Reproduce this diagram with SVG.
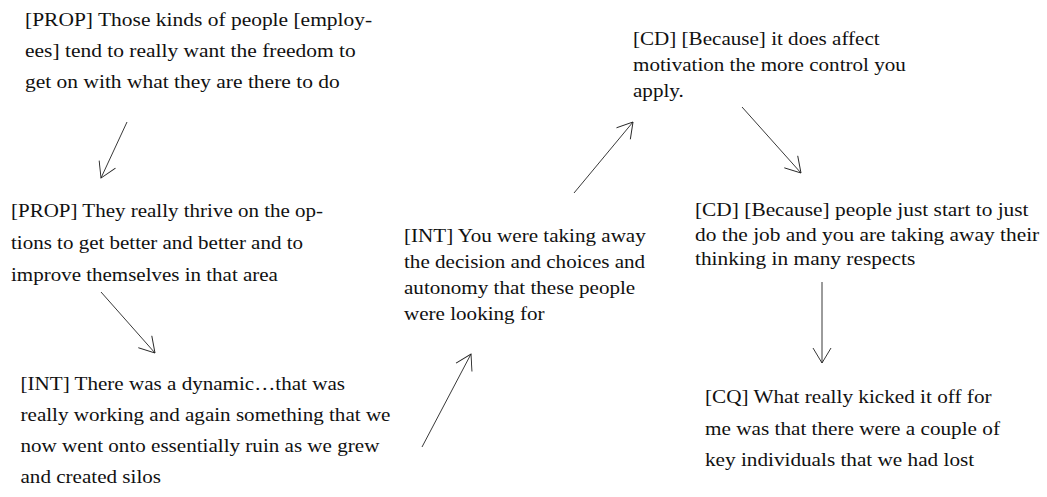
<svg xmlns="http://www.w3.org/2000/svg" width="1047" height="497" viewBox="0 0 1047 497">
<defs>
<style>
text{font-family:"Liberation Serif","Times New Roman",serif;font-size:19px;fill:#111}
.c line{stroke:#222;stroke-width:0.9;fill:none}
</style>
<marker id="ah" markerUnits="userSpaceOnUse" markerWidth="20" markerHeight="20" refX="0" refY="0" viewBox="-18 -10 20 20" orient="auto" overflow="visible">
<path d="M-15,-9 L0,0 L-15,9" fill="none" stroke="#222" stroke-width="0.9"/>
</marker>
</defs>
<rect width="1047" height="497" fill="#fff"/>
<g id="n1" transform="translate(25,0) scale(1.13,1)"><text x="0" y="26.5">[PROP] Those kinds of people [employ-</text><text x="0" y="57.5">ees] tend to really want the freedom to</text><text x="0" y="88.5">get on with what they are there to do</text></g>
<g id="n2" transform="translate(11,0) scale(1.105,1)"><text x="0" y="217">[PROP] They really thrive on the op-</text><text x="0" y="249">tions to get better and better and to</text><text x="0" y="281">improve themselves in that area</text></g>
<g id="n3" transform="translate(20.5,0) scale(1.11,1)"><text x="0" y="390">[INT] There was a dynamic…that was</text><text x="0" y="421.5">really working and again something that we</text><text x="0" y="452.5">now went onto essentially ruin as we grew</text><text x="0" y="483.5">and created silos</text></g>
<g id="n4" transform="translate(404,0) scale(1.11,1)"><text x="0" y="242.5">[INT] You were taking away</text><text x="0" y="268.5">the decision and choices and</text><text x="0" y="294.5">autonomy that these people</text><text x="0" y="320">were looking for</text></g>
<g id="n5" transform="translate(633,0) scale(1.11,1)"><text x="0" y="45">[CD] [Because] it does affect</text><text x="0" y="71">motivation the more control you</text><text x="0" y="97">apply.</text></g>
<g id="n6" transform="translate(695,0) scale(1.125,1)"><text x="0" y="216.5">[CD] [Because] people just start to just</text><text x="0" y="241">do the job and you are taking away their</text><text x="0" y="265">thinking in many respects</text></g>
<g id="n7" transform="translate(705,0) scale(1.117,1)"><text x="0" y="403">[CQ] What really kicked it off for</text><text x="0" y="435">me was that there were a couple of</text><text x="0" y="466">key individuals that we had lost</text></g>
<g id="connectors" class="c">
<line x1="127" y1="122" x2="101" y2="178" marker-end="url(#ah)"/>
<line x1="101" y1="292" x2="155" y2="353" marker-end="url(#ah)"/>
<line x1="422" y1="447" x2="471" y2="354" marker-end="url(#ah)"/>
<line x1="574" y1="193" x2="633" y2="122" marker-end="url(#ah)"/>
<line x1="742" y1="107" x2="801" y2="173" marker-end="url(#ah)"/>
<line x1="822" y1="282" x2="822" y2="363" marker-end="url(#ah)"/>
</g>
</svg>
